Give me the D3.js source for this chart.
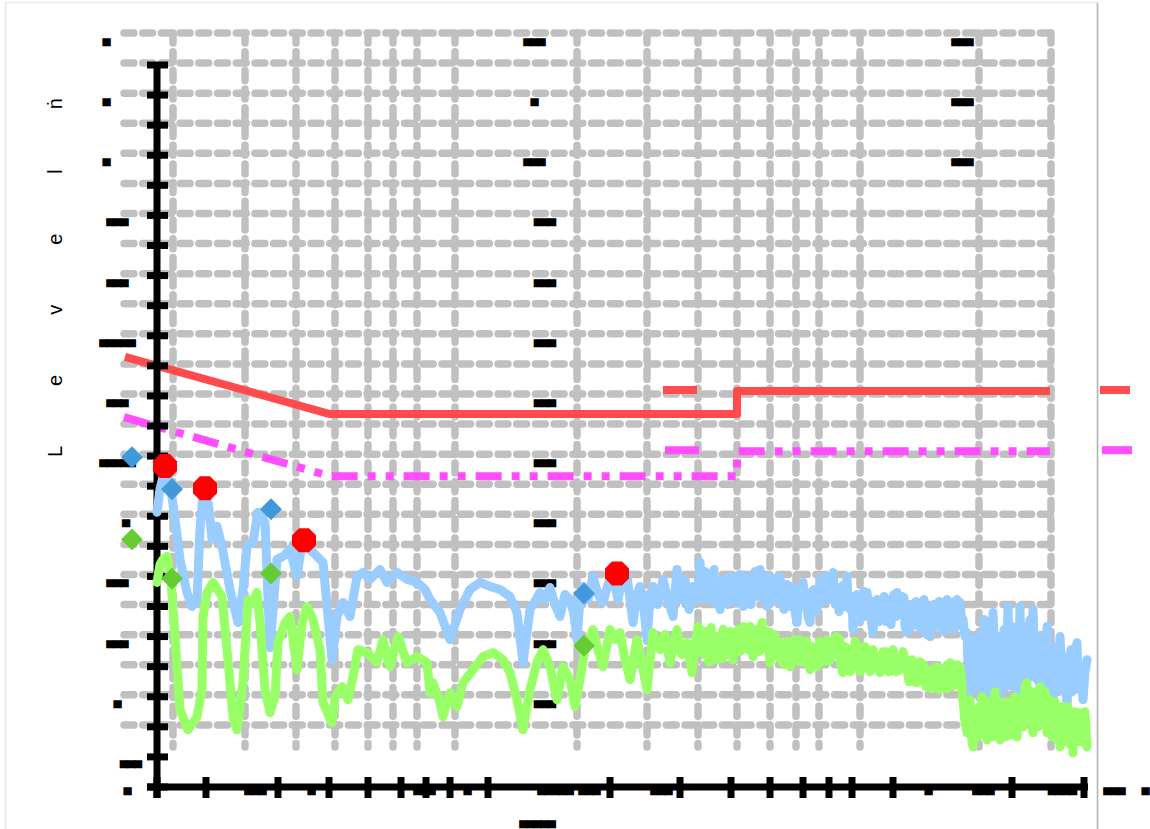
<!DOCTYPE html>
<html>
<head>
<meta charset="utf-8">
<script src="https://cdn.jsdelivr.net/npm/d3@7"></script>
<style>
  body { margin: 0; background: #fff; }
  text.blk { font-family: "DejaVu Sans Mono", monospace; font-size: 13.5px; fill: #000; letter-spacing: -1px; }
</style>
</head>
<body>
<svg id="chart" width="1150" height="829"></svg>
<script>
// x = day index, y = level
var xTicks = [0, 49, 121, 172, 211, 244, 269, 293, 331, 453, 523, 574, 613, 646, 672, 695, 736, 855, 927];
var yTicks = d3.range(0, 721, 30);
var gridLevels = d3.range(30, 721, 30);

var blueSeries = [
  [0,274],[3,297],[8,317],[13,304],[18,267],[23,227],[30,194],[35,180],[40,187],[43,257],[46,292],[49,297],
  [52,277],[55,247],[60,260],[65,240],[73,197],[81,164],[86,197],[90,240],[96,244],[101,274],[108,264],
  [113,139],[120,227],[126,230],[133,237],[140,210],[145,244],[156,234],[166,224],[175,127],[180,170],
  [186,184],[193,170],[200,210],[206,214],[213,207],[223,217],[230,204],[240,214],[250,207],[260,204],
  [268,197],[273,187],[283,174],[293,147],[303,177],[313,197],[323,204],[333,200],[343,197],[353,190],
  [360,174],[366,124],[373,177],[383,194],[388,187],[393,199],[398,182],[403,170],[408,192],[413,187],
  [417,172],[420,147],[423,187],[426,200],[431,187],[436,210],[441,192],[446,184],[451,202],[456,210],
  [461,187],[465,207],[470,210],[473,187],[476,164],[480,192],[483,200],[487,177],[490,147],[493,187],
  [496,200],[501,182],[506,207],[511,187],[516,170],[520,217],[524,187],[528,207],[532,177],[536,200],
  [540,187],[542,210],[543,224],[545,195],[547,187],[548,215],[550,212],[552,190],[553,187],[555,210],
  [557,217],[558,190],[560,182],[562,205],[563,177],[565,200],[567,207],[569,185],[571,182],[573,210],
  [576,204],[578,185],[580,187],[581,210],[583,212],[585,190],[586,180],[588,205],[590,209],[592,185],
  [594,182],[596,205],[598,215],[600,190],[603,217],[605,195],[607,187],[608,210],[610,180],[612,200],
  [614,209],[616,185],[618,187],[620,205],[623,210],[625,185],[627,177],[628,200],[630,202],[632,185],
  [633,180],[635,200],[637,197],[638,175],[640,164],[642,190],[643,197],[645,180],[646,204],[648,185],
  [650,187],[651,170],[653,164],[655,195],[657,197],[659,175],[661,182],[663,200],[665,209],[667,185],
  [670,210],[672,190],[673,187],[675,200],[676,214],[678,185],[680,192],[682,175],[683,180],[685,200],
  [687,202],[688,180],[690,210],[691,185],[693,177],[695,190],[696,157],[698,185],[700,192],[702,165],
  [704,172],[706,190],[707,195],[709,170],[710,194],[712,180],[713,177],[715,160],[716,154],[718,185],
  [720,187],[722,165],[724,167],[726,185],[727,190],[729,165],[730,187],[732,170],[734,162],[736,190],
  [737,192],[739,170],[740,194],[742,175],[743,172],[745,190],[747,189],[748,160],[750,154],[752,180],
  [754,182],[755,160],[757,162],[759,185],[760,184],[762,160],[764,157],[766,185],[767,187],[769,158],
  [770,152],[772,175],[773,150],[775,180],[777,182],[778,160],[780,162],[782,185],[783,180],[785,158],
  [787,155],[788,180],[790,187],[792,160],[793,184],[795,165],[797,157],[798,185],[800,187],[802,165],
  [803,184],[805,160],[806,167],[808,150],[810,154],[811,120],[813,94],[815,130],[817,147],[818,100],
  [820,107],[822,150],[823,127],[825,95],[827,167],[828,110],[830,87],[831,140],[833,147],[834,100],
  [836,174],[838,120],[840,107],[841,150],[843,94],[845,130],[847,157],[849,100],[851,180],[852,130],
  [854,117],[855,160],[856,100],[858,140],[860,147],[861,95],[863,180],[864,120],[866,117],[868,160],
  [870,107],[871,150],[873,167],[874,110],[876,177],[878,120],[880,107],[881,150],[883,97],[885,140],
  [887,147],[888,100],[890,160],[891,110],[893,97],[895,140],[896,87],[898,130],[900,137],[901,95],
  [903,150],[905,110],[907,97],[908,130],[910,80],[912,125],[914,137],[915,95],[917,97],[918,130],
  [920,144],[921,100],[923,97],[924,120],[926,87],[928,115],[930,127]
];

var greenSeries = [
  [0,204],[3,222],[6,227],[10,230],[14,207],[18,150],[23,77],[31,57],[40,70],[45,97],[46,170],[50,194],
  [56,204],[65,190],[70,137],[76,70],[80,57],[86,104],[91,187],[96,184],[100,194],[103,164],[108,97],
  [113,74],[118,90],[121,144],[128,164],[133,170],[140,117],[145,164],[150,180],[156,167],[163,137],
  [166,84],[175,64],[178,90],[185,100],[191,87],[196,110],[201,137],[210,134],[220,124],[226,147],
  [233,120],[241,150],[250,124],[260,130],[270,124],[273,94],[276,104],[283,84],[286,70],[293,94],
  [300,80],[306,104],[316,117],[326,130],[336,134],[346,127],[353,114],[360,87],[366,57],[373,97],
  [380,124],[386,137],[393,120],[400,87],[406,120],[413,107],[418,80],[423,107],[428,137],[436,157],
  [441,137],[446,120],[450,142],[453,157],[458,147],[463,154],[468,127],[473,107],[480,147],[485,122],
  [490,97],[496,154],[503,137],[508,152],[513,124],[520,157],[525,132],[530,144],[535,114],[539,147],
  [541,160],[543,157],[545,135],[547,132],[549,155],[550,140],[552,125],[554,159],[556,135],[558,150],
  [560,127],[562,150],[563,147],[565,128],[566,157],[568,135],[571,132],[573,155],[576,127],[578,150],
  [581,157],[583,135],[586,160],[588,140],[591,137],[593,160],[596,130],[598,150],[600,157],[602,135],
  [605,164],[607,140],[609,137],[611,155],[613,124],[615,145],[618,152],[620,130],[623,144],[625,125],
  [628,122],[630,145],[633,120],[635,140],[638,147],[640,125],[643,147],[645,125],[648,125],[650,145],
  [653,117],[655,140],[658,139],[660,120],[663,145],[666,125],[670,147],[672,125],[676,132],[679,150],
  [683,147],[684,120],[686,114],[688,140],[691,137],[693,115],[696,127],[698,145],[701,139],[703,115],
  [706,120],[708,140],[711,135],[713,115],[716,137],[719,120],[723,114],[726,135],[729,135],[732,115],
  [736,137],[739,115],[743,117],[746,135],[750,120],[752,105],[755,127],[757,105],[760,104],[763,125],
  [766,122],[769,100],[773,117],[775,98],[778,99],[780,120],[783,97],[785,115],[788,119],[790,98],
  [793,124],[795,100],[798,102],[800,122],[803,120],[806,87],[808,65],[810,54],[811,80],[813,87],
  [815,45],[816,40],[818,75],[820,77],[821,50],[823,67],[825,90],[827,87],[828,55],[830,47],[832,85],
  [833,75],[835,50],[836,80],[838,95],[840,52],[841,80],[843,47],[845,85],[847,82],[849,50],[851,85],
  [853,80],[854,52],[856,57],[858,90],[860,50],[862,80],[864,87],[866,60],[868,100],[870,104],[871,70],
  [873,67],[875,95],[876,54],[878,90],[880,87],[881,60],[883,100],[885,70],[887,62],[888,95],[890,54],
  [891,85],[893,87],[895,50],[896,70],[898,85],[900,47],[901,75],[903,40],[905,80],[907,72],[908,45],
  [910,67],[911,80],[913,42],[915,70],[916,34],[918,75],[920,67],[921,45],[923,74],[925,45],[927,47],
  [928,75],[930,40]
];

// limit lines (drawn on the offset grid layer)
var redLimit = [[1,397],[206,340],[613,340],[613,363],[926,363]];
var pinkLimit = [[0,337],[206,278],[613,278],[613,303],[926,303]];
var limitTags = [[539,573],[976,1006]];

var markerDays = [8, 48, 147, 460];
var redPeaks = [320, 298, 246, 213];
var blueMarks = [297, 265, 245, 161];
var greenMarks = [215, 176, 181, 109];

// tick label text (unreadable glyph blocks)
var yLabelLevels = d3.range(750, 0, -60);
var yLabelsLeft = ["▄","▄","▄","▄▄▄","▄▄▄","▄▄▄▄▄","▄▄▄","▄▄▄▄▄","▄","▄▄▄","▄▄▄","▄","▄▄▄"];
var yLabelsMid = ["▄▄▄","▄","▄▄▄","▄▄▄","▄▄▄","▄▄▄","▄▄▄","▄▄▄","▄▄▄","▄▄▄","▄▄▄","▄▄▄"];
var yLabelsRight = ["▄▄▄","▄▄▄","▄▄▄"];
var xLabelDays = [-30, 98, 154, 267, 310, 398, 432, 504, 771, 826, 905, 957, 988];
var xLabels = ["▄","▄▄▄","▄","▄▄▄","▄","▄▄▄▄▄","▄▄▄","▄▄▄","▄","▄▄▄","▄▄▄▄","▄▄▄","▄"];
var xTitle = "▄▄▄▄▄";
var yTitle = "Levelṅ";

// layout
var leftCenters = [106,106,106,117,117,117,117,117,125.5,117,117,117,130.5];
var midCenters = [534,534,534,544.5,544.5,544.5,544.5,544.5,544.5,544.5,544.5,544.5];

var svg = d3.select("#chart");
var x = d3.scaleLinear().domain([0, 927]).range([157, 1084]);
var y = d3.scaleLinear().domain([0, 720]).range([787, 65]);

// frame
svg.append("rect").attr("x", 5.5).attr("y", 2.5).attr("width", 1092).attr("height", 840)
   .attr("fill", "none").attr("stroke", "#e8e8e8").attr("stroke-width", 1.5);
svg.append("line").attr("x1", 1097.5).attr("x2", 1097.5).attr("y1", 3).attr("y2", 829)
   .attr("stroke", "#b4b4b4").attr("stroke-width", 1.5);

// offset layer: grid + limit lines
var off = svg.append("g").attr("transform", "translate(-33,-32)");

off.selectAll(".hgrid").data(gridLevels).enter().append("line")
   .classed("hgrid", true)
   .attr("x1", x(0)).attr("x2", x(927))
   .attr("y1", function (d) { return y(d); }).attr("y2", function (d) { return y(d); })
   .attr("stroke", "#c0c0c0").attr("stroke-width", 7.5)
   .attr("stroke-linecap", "round").attr("stroke-dasharray", "10,8.7");

off.selectAll(".vgrid").data(xTicks.slice(1)).enter().append("line")
   .classed("vgrid", true)
   .attr("x1", function (d) { return x(d); }).attr("x2", function (d) { return x(d); })
   .attr("y1", y(720)).attr("y2", y(8))
   .attr("stroke", "#c0c0c0").attr("stroke-width", 7.5)
   .attr("stroke-linecap", "round").attr("stroke-dasharray", "10,8.7");

var line = d3.line().x(function (d) { return x(d[0]); }).y(function (d) { return y(d[1]); });

off.append("path").attr("d", line(redLimit))
   .attr("fill", "none").attr("stroke", "#ff4b4b").attr("stroke-width", 8)
   .attr("stroke-linejoin", "round");
off.append("path").attr("d", line(pinkLimit))
   .attr("fill", "none").attr("stroke", "#ff4dff").attr("stroke-width", 8)
   .attr("stroke-dasharray", "26,10,8,10,8,10");

off.selectAll(".redtag").data(limitTags).enter().append("line")
   .attr("x1", function (d) { return x(d[0]); }).attr("x2", function (d) { return x(d[1]); })
   .attr("y1", y(364)).attr("y2", y(364))
   .attr("stroke", "#ff4b4b").attr("stroke-width", 8);
off.selectAll(".pinktag").data(limitTags).enter().append("line")
   .attr("x1", function (d) { return x(d[0] + 2); }).attr("x2", function (d) { return x(d[1] + 2); })
   .attr("y1", y(304)).attr("y2", y(304))
   .attr("stroke", "#ff4dff").attr("stroke-width", 8);

// axes
var axes = svg.append("g");
axes.append("line").attr("x1", x(0)).attr("x2", x(0)).attr("y1", 62).attr("y2", 798)
    .attr("stroke", "#000").attr("stroke-width", 7);
axes.selectAll(".ytick").data(yTicks).enter().append("line")
    .attr("x1", x(0) - 10).attr("x2", x(0) + 11)
    .attr("y1", function (d) { return y(d); }).attr("y2", function (d) { return y(d); })
    .attr("stroke", "#000").attr("stroke-width", 7);
axes.append("line").attr("x1", 147).attr("x2", x(927) + 4).attr("y1", y(0)).attr("y2", y(0))
    .attr("stroke", "#000").attr("stroke-width", 7);
axes.selectAll(".xtick").data(xTicks).enter().append("line")
    .attr("x1", function (d) { return x(d); }).attr("x2", function (d) { return x(d); })
    .attr("y1", y(0) - 10).attr("y2", y(0) + 11)
    .attr("stroke", "#000").attr("stroke-width", 7);

// tick label blocks
function blk(sel, cx, cy, s) {
  sel.append("text").classed("blk", true)
     .attr("x", cx).attr("y", cy + 1)
     .attr("text-anchor", "middle").text(s);
}
var lab = svg.append("g");
yLabelLevels.forEach(function (v, i) {
  blk(lab, leftCenters[i], y(v) + 7, yLabelsLeft[i]);
  if (i < yLabelsMid.length) blk(lab, midCenters[i], y(v) + 7, yLabelsMid[i]);
  if (i < yLabelsRight.length) blk(lab, 962, y(v) + 7, yLabelsRight[i]);
});
xLabelDays.forEach(function (d, i) { blk(lab, x(d), y(0) + 4, xLabels[i]); });
blk(lab, 537, 824, xTitle);

svg.append("text")
   .attr("transform", "translate(62,457) rotate(-90)")
   .attr("font-family", "Liberation Sans, Arial, sans-serif")
   .attr("font-size", 20).attr("letter-spacing", 60)
   .text(yTitle);

// data lines
svg.append("path").attr("d", line(blueSeries))
   .attr("fill", "none").attr("stroke", "#99ccff").attr("stroke-width", 9)
   .attr("stroke-linejoin", "round").attr("stroke-linecap", "round");
svg.append("path").attr("d", line(greenSeries))
   .attr("fill", "none").attr("stroke", "#99ff66").attr("stroke-width", 9)
   .attr("stroke-linejoin", "round").attr("stroke-linecap", "round");

// markers
function octagon(r) {
  var pts = d3.range(8).map(function (k) {
    var a = Math.PI / 8 + k * Math.PI / 4;
    return [r * Math.cos(a), r * Math.sin(a)];
  });
  return "M" + pts.join("L") + "Z";
}
svg.selectAll(".peak").data(markerDays).enter().append("path")
   .attr("d", octagon(13))
   .attr("transform", function (d, i) { return "translate(" + x(d) + "," + y(redPeaks[i]) + ")"; })
   .attr("fill", "#ff0000");

var offTop = svg.append("g").attr("transform", "translate(-33,-32)");
var diamond = d3.symbol().type(d3.symbolSquare).size(240);
offTop.selectAll(".bmark").data(markerDays).enter().append("path")
   .attr("d", diamond())
   .attr("transform", function (d, i) { return "translate(" + x(d) + "," + y(blueMarks[i]) + ") rotate(45)"; })
   .attr("fill", "#4199db");
offTop.selectAll(".gmark").data(markerDays).enter().append("path")
   .attr("d", diamond())
   .attr("transform", function (d, i) { return "translate(" + x(d) + "," + y(greenMarks[i]) + ") rotate(45)"; })
   .attr("fill", "#66cc33");
</script>
</body>
</html>
